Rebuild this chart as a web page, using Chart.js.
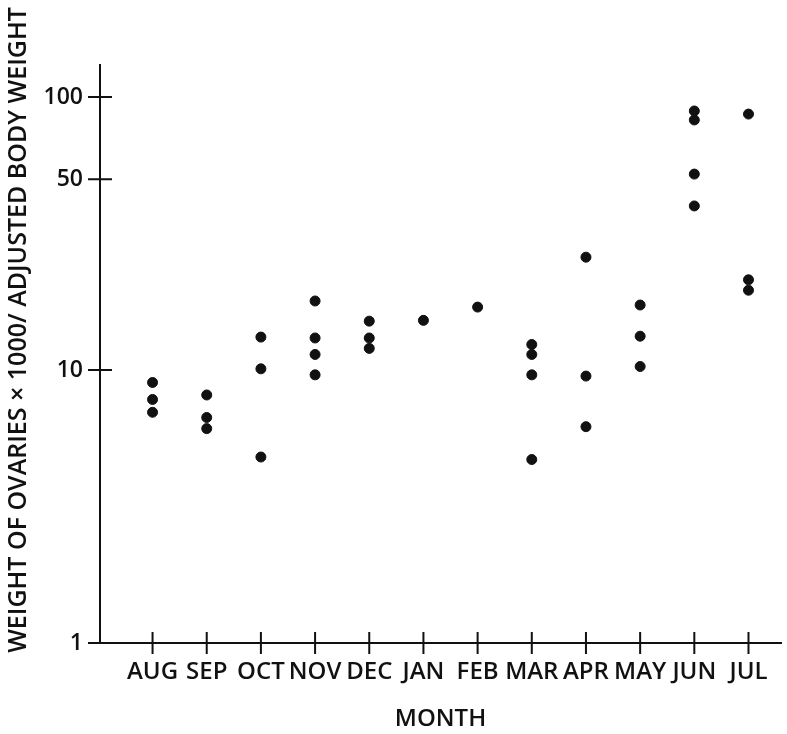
<!DOCTYPE html>
<html>
<head>
<meta charset="utf-8">
<script src="https://cdn.jsdelivr.net/npm/chart.js@4.4.1/dist/chart.umd.min.js"></script>
<style>
  html, body { margin: 0; padding: 0; background: #fff; }
  #wrap { width: 787px; height: 734px; }
</style>
</head>
<body>
<div id="wrap"><canvas id="chart"></canvas></div>
<script>
const months = ['AUG', 'SEP', 'OCT', 'NOV', 'DEC', 'JAN', 'FEB', 'MAR', 'APR', 'MAY', 'JUN', 'JUL']
// readings per month (weight of ovaries x1000 / adjusted body weight)
const aug = [9.0, 7.8, 7.0]
const sep = [8.1, 6.7, 6.1]
const oct = [13.2, 10.1, 4.8]
const nov = [17.9, 13.1, 11.4, 9.6]
const dec = [15.1, 13.1, 12.0]
const jan = [15.2]
const feb = [17.0]
const mar = [12.4, 11.4, 9.6, 4.7]
const apr = [25.9, 9.5, 6.2]
const may = [17.3, 13.3, 10.3]
const jun = [88.9, 82.4, 52.2, 39.9]
const jul = [86.6, 21.4, 19.6]
const yTicks = [1, 10, 50, 100]
const yTitle = 'WEIGHT OF OVARIES \u00d7 1000/ ADJUSTED BODY WEIGHT'

const byMonth = [aug, sep, oct, nov, dec, jan, feb, mar, apr, may, jun, jul]
const points = []
byMonth.forEach((vals, i) => vals.forEach(v => points.push({ x: i, y: v })))

const FONT = "'Open Sans', 'Liberation Sans', sans-serif"

// ticks crossing the axis lines + the vertical title (sits a bit above centre)
const crossTicks = {
  id: 'crossTicks',
  afterDraw(chart) {
    const { ctx, scales: { x, y } } = chart
    ctx.save()
    ctx.strokeStyle = '#111'
    ctx.lineWidth = 2
    ctx.beginPath()
    months.forEach((m, i) => {
      const px = x.getPixelForValue(i)
      ctx.moveTo(px, y.bottom - 11)
      ctx.lineTo(px, y.bottom + 11)
    })
    yTicks.forEach(v => {
      const py = y.getPixelForValue(v)
      ctx.moveTo(x.left - 12, py)
      ctx.lineTo(x.left + 12, py)
    })
    ctx.stroke()

    ctx.translate(19, 330)
    ctx.rotate(-Math.PI / 2)
    ctx.fillStyle = '#111'
    ctx.font = `600 25px ${FONT}`
    ctx.textAlign = 'center'
    ctx.textBaseline = 'middle'
    ctx.fillText(yTitle, 0, 0)
    ctx.restore()
  }
}

new Chart(document.getElementById('chart').getContext('2d'), {
  type: 'scatter',
  data: {
    datasets: [
      {
        data: points,
        backgroundColor: '#111',
        borderColor: '#111',
        pointRadius: 5,
        pointHoverRadius: 5,
      },
    ],
  },
  options: {
    responsive: true,
    maintainAspectRatio: false,
    animation: false,
    layout: { padding: { top: 65, right: 3, left: 0, bottom: 0 } },
    plugins: {
      legend: { display: false },
      tooltip: { enabled: false },
    },
    scales: {
      x: {
        type: 'linear',
        min: -0.97,
        max: 11.6,
        afterBuildTicks: (scale) => {
          scale.ticks = months.map((m, i) => ({ value: i }))
        },
        afterFit: (scale) => { scale.height = 91 },
        grid: { display: false },
        border: { display: true, color: '#111', width: 2 },
        ticks: {
          autoSkip: false,
          maxRotation: 0,
          padding: 7,
          color: '#111',
          font: { family: FONT, size: 24, weight: '600' },
          callback: (value) => months[value],
        },
        title: {
          display: true,
          text: 'MONTH',
          color: '#111',
          padding: { top: 18, bottom: 0 },
          font: { family: FONT, size: 24, weight: '600' },
        },
      },
      y: {
        type: 'logarithmic',
        min: 1,
        max: 131,
        afterBuildTicks: (scale) => {
          scale.ticks = yTicks.map(v => ({ value: v }))
        },
        afterFit: (scale) => { scale.width = 100 },
        grid: { display: false },
        border: { display: true, color: '#111', width: 2 },
        ticks: {
          padding: 9,
          color: '#111',
          font: { family: FONT, size: 23, weight: '600' },
          callback: (value) => String(value),
        },
      },
    },
  },
  plugins: [crossTicks],
})
</script>
</body>
</html>
